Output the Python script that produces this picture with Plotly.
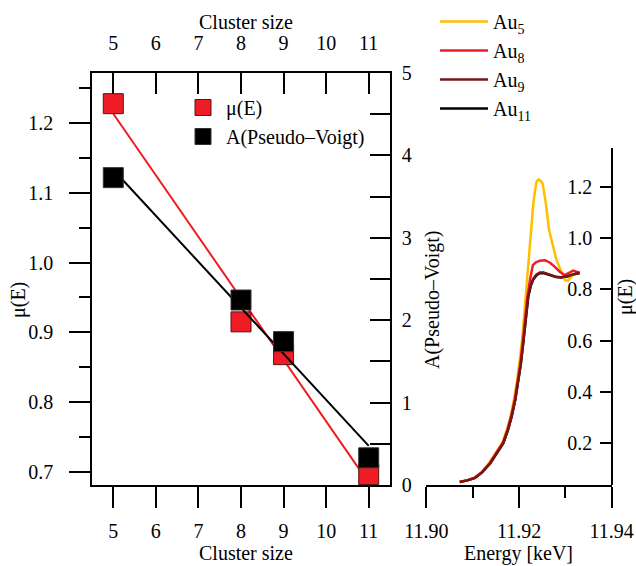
import numpy as np
import plotly.graph_objects as go

# ---------------- data: left panel ----------------
cluster_size = [5, 8, 9, 11]
mu_E = [1.228, 0.915, 0.868, 0.696]
A_pv = [3.73, 2.245, 1.74, 0.33]

x_ticks = [5, 6, 7, 8, 9, 10, 11]

# ---------------- data: right panel (XANES) ----------------
E_au5 = [11.9072, 11.9090, 11.9105, 11.9120, 11.9137, 11.9151, 11.9165, 11.9175, 11.9183,
         11.9190, 11.9196, 11.9202, 11.9207, 11.9213, 11.9219, 11.9224, 11.9231, 11.9235,
         11.9238, 11.9242, 11.9246, 11.9251, 11.9258, 11.9265, 11.9274, 11.9281, 11.9290,
         11.9299, 11.9306, 11.9313, 11.9324]
mu_au5 = [0.048, 0.056, 0.066, 0.088, 0.125, 0.163, 0.205, 0.258, 0.312,
          0.380, 0.445, 0.530, 0.610, 0.740, 0.880, 0.993, 1.136, 1.190,
          1.221, 1.229, 1.225, 1.214, 1.136, 1.032, 0.967, 0.915, 0.876,
          0.837, 0.833, 0.850, 0.863]

E_au8 = [11.9072, 11.9090, 11.9105, 11.9120, 11.9137, 11.9151, 11.9165, 11.9175, 11.9183,
         11.9191, 11.9197, 11.9203, 11.9208, 11.9213, 11.9218, 11.9224, 11.9230, 11.9236,
         11.9245, 11.9256, 11.9267, 11.9277, 11.9288, 11.9299, 11.9310, 11.9317, 11.9324,
         11.9331]
mu_au8 = [0.048, 0.055, 0.065, 0.086, 0.123, 0.160, 0.200, 0.252, 0.305,
          0.372, 0.436, 0.513, 0.593, 0.690, 0.770, 0.840, 0.895, 0.905,
          0.912, 0.914, 0.904, 0.889, 0.869, 0.856, 0.865, 0.873, 0.869,
          0.865]

E_au9 = [11.9072, 11.9090, 11.9105, 11.9120, 11.9138, 11.9152, 11.9166, 11.9176, 11.9184,
         11.9192, 11.9198, 11.9204, 11.9209, 11.9215, 11.9220, 11.9226, 11.9231, 11.9238,
         11.9245, 11.9253, 11.9260, 11.9270, 11.9280, 11.9292, 11.9306, 11.9320, 11.9331]
mu_au9 = [0.048, 0.055, 0.064, 0.085, 0.121, 0.158, 0.199, 0.250, 0.303,
          0.370, 0.433, 0.510, 0.589, 0.700, 0.775, 0.820, 0.842, 0.858,
          0.866, 0.866, 0.862, 0.855, 0.849, 0.847, 0.852, 0.860, 0.865]

E_au11 = [11.9072, 11.9090, 11.9105, 11.9120, 11.9138, 11.9152, 11.9166, 11.9176, 11.9184,
          11.9192, 11.9198, 11.9204, 11.9209, 11.9215, 11.9220, 11.9226, 11.9231, 11.9238,
          11.9245, 11.9253, 11.9260, 11.9270, 11.9280, 11.9292, 11.9306, 11.9320, 11.9331]
mu_au11 = [0.048, 0.055, 0.064, 0.085, 0.121, 0.158, 0.199, 0.250, 0.303,
           0.370, 0.433, 0.510, 0.589, 0.698, 0.772, 0.817, 0.839, 0.855,
           0.863, 0.864, 0.860, 0.853, 0.848, 0.846, 0.851, 0.859, 0.864]

e_tickvals = [11.90, 11.92, 11.94]
e_ticktext = ["11.90", "11.92", "11.94"]
e_minor = [11.91, 11.93]
mu_r_ticks = [0.2, 0.4, 0.6, 0.8, 1.0, 1.2]

# ---------------- styling ----------------
FONT = "Liberation Serif"
RED = "#ee1c25"
W, H = 636, 566


def px_x(p):
    return p / W


def px_y(p):
    return 1 - p / H


fig = go.Figure()

# linear fits of the left-panel data
xs_fit = np.array([min(cluster_size), max(cluster_size)], dtype=float)
pm = np.polyfit(cluster_size, mu_E, 1)
pa = np.polyfit(cluster_size, A_pv, 1)

fig.add_trace(go.Scatter(x=xs_fit, y=np.polyval(pm, xs_fit), mode="lines",
                         line=dict(color=RED, width=2), showlegend=False,
                         xaxis="x", yaxis="y", hoverinfo="skip"))
fig.add_trace(go.Scatter(x=cluster_size, y=mu_E, mode="markers", name="μ(E)",
                         marker=dict(symbol="square", size=20, color=RED,
                                     line=dict(color="#5a1414", width=1)),
                         xaxis="x", yaxis="y", legend="legend"))
fig.add_trace(go.Scatter(x=xs_fit, y=np.polyval(pa, xs_fit), mode="lines",
                         line=dict(color="black", width=2), showlegend=False,
                         xaxis="x3", yaxis="y2", hoverinfo="skip"))
fig.add_trace(go.Scatter(x=cluster_size, y=A_pv, mode="markers", name="A(Pseudo–Voigt)",
                         marker=dict(symbol="square", size=20, color="black",
                                     line=dict(color="#333333", width=1)),
                         xaxis="x3", yaxis="y2", legend="legend"))

# right panel spectra (Au11 underneath)
spectra = [
    ("Au<sub>11</sub>", E_au11, mu_au11, "black", 4),
    ("Au<sub>5</sub>", E_au5, mu_au5, "#ffbf00", 1),
    ("Au<sub>8</sub>", E_au8, mu_au8, "#ee1c25", 2),
    ("Au<sub>9</sub>", E_au9, mu_au9, "#7a1315", 3),
]
for name, ex, ey, col, rank in spectra:
    fig.add_trace(go.Scatter(x=ex, y=ey, mode="lines", name=name,
                             line=dict(color=col, width=2.5),
                             xaxis="x2", yaxis="y3", legend="legend2",
                             legendrank=rank))

tickfont = dict(family=FONT, size=20, color="black")
axcommon = dict(showgrid=False, zeroline=False, showline=True, linecolor="black",
                linewidth=1.5, tickcolor="black", tickwidth=1.5, tickfont=tickfont,
                automargin=False)

left_dom_x = [px_x(92), px_x(390)]
left_dom_y = [px_y(485), px_y(73)]
right_dom_x = [px_x(426), px_x(612)]
right_dom_y = [px_y(485), px_y(148)]

fig.update_layout(
    width=W, height=H,
    margin=dict(l=0, r=0, t=0, b=0, pad=0, autoexpand=False),
    paper_bgcolor="white", plot_bgcolor="white",
    font=dict(family=FONT, size=20, color="black"),
    xaxis=dict(domain=left_dom_x, anchor="y", range=[4.5, 11.5],
               tickmode="array", tickvals=x_ticks, ticks="outside", ticklen=21,
               ticklabelstandoff=6, **axcommon),
    xaxis3=dict(overlaying="x", side="top", anchor="y", range=[4.5, 11.5],
                tickmode="array", tickvals=x_ticks, ticks="inside", ticklen=21,
                ticklabelstandoff=13, **axcommon),
    yaxis=dict(domain=left_dom_y, anchor="x", range=[0.681, 1.272],
               tickmode="linear", tick0=0.7, dtick=0.1, tickformat=".1f",
               ticks="outside", ticklen=21, ticklabelstandoff=12,
               minor=dict(ticks="outside", ticklen=11, tick0=0.65, dtick=0.05,
                          tickcolor="black", tickwidth=1.5),
               **axcommon),
    yaxis2=dict(overlaying="y", side="right", anchor="x", range=[0, 5],
                tickmode="linear", tick0=0, dtick=1,
                ticks="inside", ticklen=20, ticklabelstandoff=6,
                minor=dict(ticks="inside", ticklen=20, tick0=0, dtick=0.5,
                           tickcolor="black", tickwidth=1.5),
                **axcommon),
    xaxis2=dict(domain=right_dom_x, anchor="y3", range=[11.8999, 11.9401],
                tickmode="array", tickvals=e_tickvals, ticktext=e_ticktext,
                ticks="outside", ticklen=21, ticklabelstandoff=6,
                ticklabeloverflow="allow",
                minor=dict(tickmode="array", tickvals=e_minor, ticks="outside",
                           ticklen=11, tickcolor="black", tickwidth=1.5),
                **axcommon),
    yaxis3=dict(domain=right_dom_y, anchor="free", position=px_x(612), side="left",
                range=[0.036, 1.352],
                tickmode="array", tickvals=mu_r_ticks,
                ticktext=[f"{v:.1f}" for v in mu_r_ticks],
                ticks="outside", ticklen=11, ticklabelstandoff=4,
                **axcommon),
    legend=dict(x=px_x(180), y=px_y(88), xanchor="left", yanchor="top",
                bgcolor="rgba(0,0,0,0)", font=dict(family=FONT, size=20),
                itemsizing="trace", itemwidth=36, tracegroupgap=0),
    legend2=dict(x=px_x(435), y=px_y(2), xanchor="left", yanchor="top",
                 bgcolor="rgba(0,0,0,0)", font=dict(family=FONT, size=20),
                 itemwidth=48, traceorder="normal"),
)

ann = [
    ("Cluster size", 246, 22, 0),
    ("Cluster size", 246, 553, 0),
    ("μ(E)", 18, 300, -90),
    ("A(Pseudo–Voigt)", 432, 300, -90),
    ("Energy [keV]", 518, 553, 0),
    ("μ(E)", 625, 297, -90),
]
for txt, ax_, ay_, ang in ann:
    fig.add_annotation(text=txt, x=px_x(ax_), y=px_y(ay_), xref="paper", yref="paper",
                       xanchor="center", yanchor="middle", showarrow=False,
                       textangle=ang, font=dict(family=FONT, size=20, color="black"))

fig.write_html("out.html")
